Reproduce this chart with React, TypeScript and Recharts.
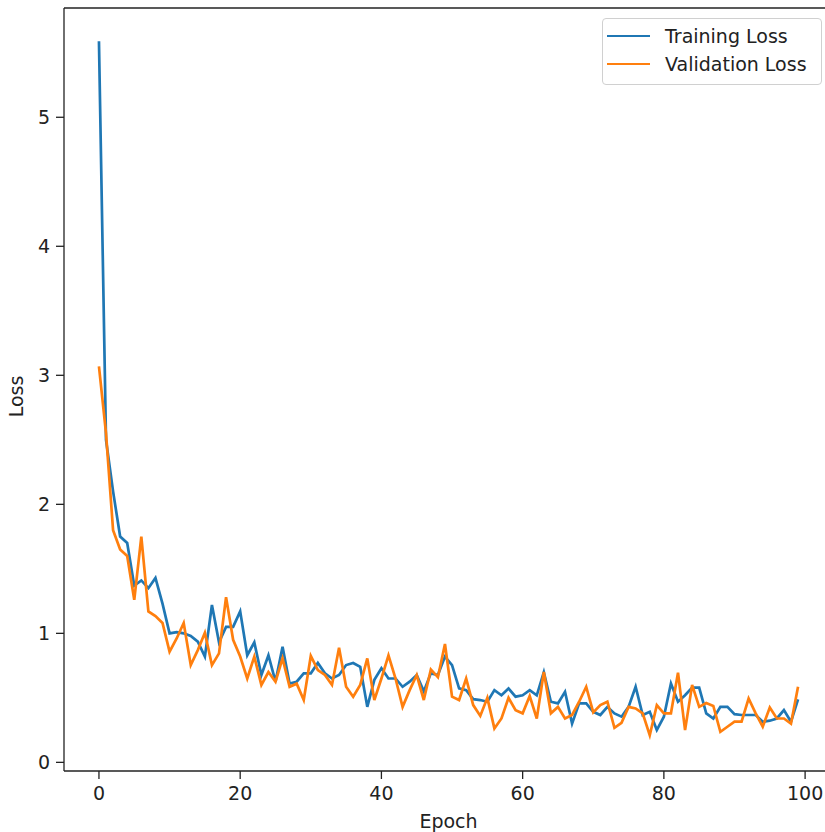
import { LineChart, Line, XAxis, YAxis, ReferenceLine } from 'recharts';

const epochs = Array.from({ length: 100 }, (_, i) => i);

const trainingLoss = [
  5.59, 2.5, 2.1, 1.75, 1.7, 1.37, 1.41, 1.35, 1.43, 1.23,
  1.0, 1.01, 1.0, 0.98, 0.935, 0.82, 1.22, 0.93, 1.05, 1.05,
  1.17, 0.83, 0.93, 0.677, 0.83, 0.625, 0.896, 0.61, 0.625, 0.69,
  0.69, 0.77, 0.69, 0.65, 0.677, 0.754, 0.77, 0.74, 0.43, 0.64,
  0.73, 0.65, 0.65, 0.586, 0.625, 0.677, 0.55, 0.69, 0.677, 0.82,
  0.754, 0.573, 0.56, 0.49, 0.483, 0.47, 0.56, 0.52, 0.573, 0.509,
  0.52, 0.56, 0.52, 0.7, 0.47, 0.457, 0.547, 0.3, 0.457, 0.457,
  0.392, 0.367, 0.43, 0.379, 0.354, 0.43, 0.586, 0.367, 0.392, 0.25,
  0.354, 0.612, 0.47, 0.52, 0.58, 0.58, 0.38, 0.34, 0.43, 0.43,
  0.374, 0.367, 0.367, 0.367, 0.315, 0.323, 0.34, 0.405, 0.315, 0.488,
];

const validationLoss = [
  3.07, 2.55, 1.8, 1.65, 1.6, 1.26, 1.75, 1.17, 1.134, 1.08,
  0.858, 0.96, 1.08, 0.754, 0.87, 1.005, 0.754, 0.845, 1.28, 0.95,
  0.82, 0.65, 0.82, 0.6, 0.7, 0.625, 0.806, 0.586, 0.61, 0.483,
  0.825, 0.716, 0.677, 0.6, 0.888, 0.586, 0.509, 0.6, 0.806, 0.483,
  0.65, 0.83, 0.65, 0.43, 0.56, 0.677, 0.483, 0.72, 0.66, 0.917,
  0.509, 0.483, 0.65, 0.444, 0.36, 0.5, 0.263, 0.34, 0.5, 0.405,
  0.38, 0.514, 0.34, 0.7, 0.38, 0.43, 0.34, 0.367, 0.47, 0.586,
  0.387, 0.444, 0.47, 0.268, 0.307, 0.43, 0.418, 0.38, 0.21, 0.444,
  0.38, 0.38, 0.695, 0.25, 0.6, 0.43, 0.46, 0.437, 0.237, 0.276,
  0.315, 0.315, 0.495, 0.38, 0.276, 0.425, 0.34, 0.34, 0.3, 0.586,
];

const xTicks = [0, 20, 40, 60, 80, 100];
const yTicks = [0, 1, 2, 3, 4, 5];
const xDomain = [-4.95, 103.95];
const yDomain = [-0.067, 5.847];

const data = epochs.map((epoch, i) => ({
  epoch,
  train: trainingLoss[i],
  val: validationLoss[i],
}));

const FONT = '"DejaVu Sans", sans-serif';
const FS = 19;
const BLUE = '#1f77b4';
const ORANGE = '#ff7f0e';
const AXIS = '#222';
const TEXT = '#222';

const legendItems = [
  { label: 'Training Loss', color: BLUE },
  { label: 'Validation Loss', color: ORANGE },
];

function LegendBox() {
  return (
    <div
      style={{
        position: 'absolute',
        left: 602,
        top: 18,
        width: 220,
        height: 67,
        border: '1px solid #d0d0d0',
        borderRadius: 4,
        background: 'rgba(255,255,255,0.85)',
        fontFamily: FONT,
        fontSize: FS,
        color: TEXT,
        boxSizing: 'border-box',
      }}
    >
      {legendItems.map((it, i) => (
        <div
          key={it.label}
          style={{ position: 'absolute', left: 4, top: 4 + i * 28, height: 26, display: 'flex', alignItems: 'center', whiteSpace: 'nowrap' }}
        >
          <span style={{ display: 'inline-block', width: 43, height: 2.7, background: it.color }} />
          <span style={{ marginLeft: 15 }}>{it.label}</span>
        </div>
      ))}
    </div>
  );
}

export default function App() {
  return (
    <div style={{ position: 'fixed', left: 0, top: 0, width: 825, height: 832, overflow: 'hidden', background: '#fff' }}>
      <LineChart width={900} height={832} data={data} margin={{ top: 8, right: 67, bottom: 0, left: 0 }}>
        <XAxis
          dataKey="epoch"
          type="number"
          domain={xDomain}
          ticks={xTicks}
          allowDataOverflow
          height={61}
          tickSize={8}
          tickMargin={8}
          stroke={AXIS}
          strokeWidth={1.3}
          tick={{ fill: TEXT, fontSize: FS, fontFamily: FONT }}
          label={{
            content: ({ viewBox }: any) => (
              <text x={viewBox.x + viewBox.width / 2} y={828} textAnchor="middle" fill={TEXT} fontSize={FS} fontFamily={FONT}>
                Epoch
              </text>
            ),
          }}
        />
        <YAxis
          type="number"
          domain={yDomain}
          ticks={yTicks}
          allowDataOverflow
          width={64}
          tickSize={8}
          tickMargin={6}
          stroke={AXIS}
          strokeWidth={1.3}
          tick={{ fill: TEXT, fontSize: FS, fontFamily: FONT }}
          label={{
            content: ({ viewBox }: any) => (
              <text
                transform={`translate(23, ${viewBox.y + viewBox.height / 2 + 7}) rotate(-90)`}
                textAnchor="middle"
                fill={TEXT}
                fontSize={FS}
                fontFamily={FONT}
              >
                Loss
              </text>
            ),
          }}
        />
        <ReferenceLine y={yDomain[1]} stroke={AXIS} strokeWidth={1.3} ifOverflow="visible" />
        <Line dataKey="train" name="Training Loss" stroke={BLUE} strokeWidth={2.7} dot={false} isAnimationActive={false} />
        <Line dataKey="val" name="Validation Loss" stroke={ORANGE} strokeWidth={2.7} dot={false} isAnimationActive={false} />
      </LineChart>
      <LegendBox />
    </div>
  );
}
